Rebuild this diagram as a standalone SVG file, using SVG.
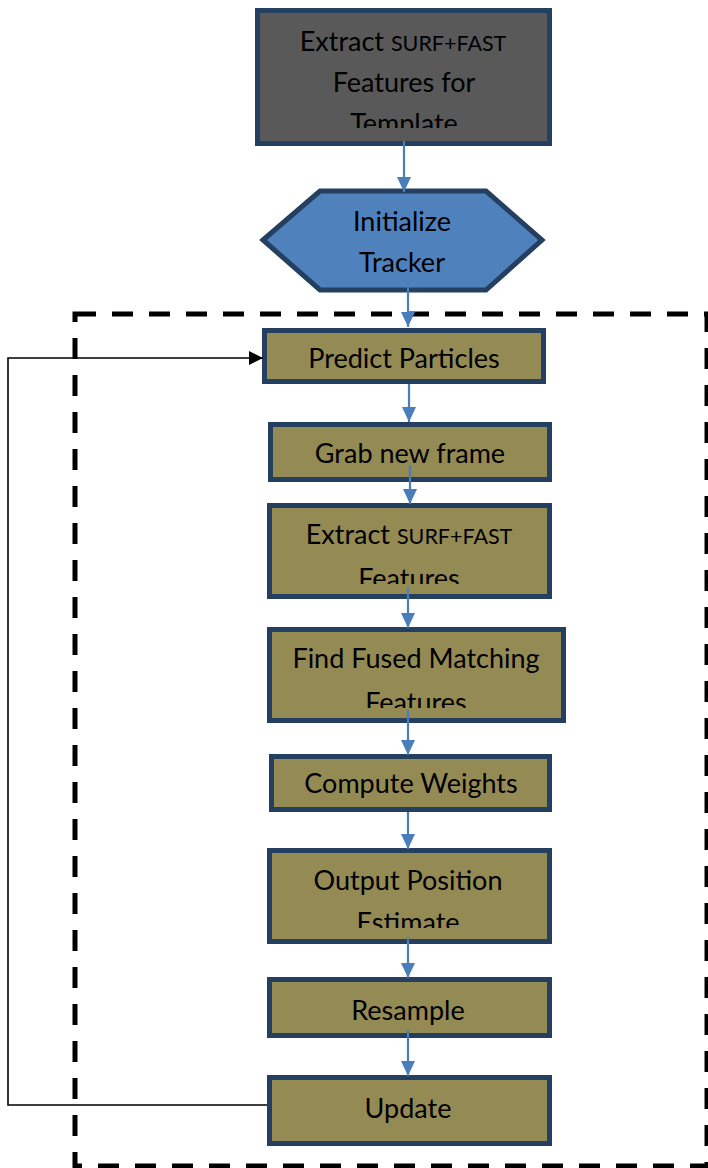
<svg xmlns="http://www.w3.org/2000/svg" width="708" height="1168" viewBox="0 0 708 1168">
<style>
.box{fill:#948A54;stroke:#243F60;stroke-width:5}
.t{font-family:Lato,"Liberation Sans",sans-serif;font-size:27px;fill:#000;text-anchor:middle}
.s{font-size:21.5px}
.bl{stroke:#4A7EBB;stroke-width:2.2;fill:none}
.fb{stroke:#000;stroke-width:1.6;fill:none}
</style>
<defs>
<marker id="ab" markerWidth="15" markerHeight="14" refX="15" refY="7" orient="auto" markerUnits="userSpaceOnUse" viewBox="0 0 15 14">
<path d="M0,0 L15,7 L0,14 Z" fill="#4A7EBB"/>
</marker>
<marker id="ak" markerWidth="14" markerHeight="14" refX="14" refY="7" orient="auto" markerUnits="userSpaceOnUse" viewBox="0 0 14 14">
<path d="M0,0 L14,7 L0,14 Z" fill="#000"/>
</marker>
<clipPath id="c1"><rect x="0" y="0" width="708" height="128"/></clipPath>
<clipPath id="c2"><rect x="0" y="0" width="708" height="584"/></clipPath>
<clipPath id="c3"><rect x="0" y="0" width="708" height="708"/></clipPath>
<clipPath id="c4"><rect x="0" y="0" width="708" height="928"/></clipPath>
</defs>
<rect id="loop" x="75" y="314" width="632" height="852" fill="none" stroke="#000" stroke-width="5" stroke-dasharray="21 16"/>
<g id="n_template">
<rect x="257.5" y="10.5" width="292" height="133" fill="#595959" stroke="#243F60" stroke-width="5"/>
<text class="t" x="403" y="51">Extract <tspan class="s">SURF+FAST</tspan></text>
<text class="t" x="404" y="92">Features for</text>
<text class="t" x="404" y="133" clip-path="url(#c1)">Template</text>
</g>
<g id="n_init">
<polygon points="263,240 320,191 486,191 542,240 486,290 320,290" fill="#4F81BD" stroke="#243F60" stroke-width="5"/>
<text class="t" x="402" y="231">Initialize</text>
<text class="t" x="402" y="272">Tracker</text>
</g>
<g id="n_predict">
<rect class="box" x="264.5" y="330.5" width="279" height="51"/>
<text class="t" x="404" y="368">Predict Particles</text>
</g>
<g id="n_grab">
<rect class="box" x="270.5" y="424.5" width="279" height="55"/>
<text class="t" x="410" y="463">Grab new frame</text>
</g>
<g id="n_extract">
<rect class="box" x="269.5" y="505.5" width="280" height="91"/>
<text class="t" x="409" y="544">Extract <tspan class="s">SURF+FAST</tspan></text>
<text class="t" x="409" y="588" clip-path="url(#c2)">Features</text>
</g>
<g id="n_match">
<rect class="box" x="269.5" y="629.5" width="294" height="91"/>
<text class="t" x="416" y="668">Find Fused Matching</text>
<text class="t" x="416" y="712" clip-path="url(#c3)">Features</text>
</g>
<g id="n_weights">
<rect class="box" x="271.5" y="756.5" width="278" height="53"/>
<text class="t" x="411" y="793">Compute Weights</text>
</g>
<g id="n_output">
<rect class="box" x="269.5" y="850.5" width="280" height="91"/>
<text class="t" x="408" y="890">Output Position</text>
<text class="t" x="408" y="932" clip-path="url(#c4)">Estimate</text>
</g>
<g id="n_resample">
<rect class="box" x="269.5" y="979.5" width="280" height="56"/>
<text class="t" x="408" y="1020">Resample</text>
</g>
<g id="n_update">
<rect class="box" x="269.5" y="1077.5" width="280" height="66"/>
<text class="t" x="408" y="1118">Update</text>
</g>
<g id="connectors">
<line class="bl" x1="404" y1="141" x2="404" y2="192" marker-end="url(#ab)"/>
<line class="bl" x1="408" y1="282" x2="408" y2="327" marker-end="url(#ab)"/>
<line class="bl" x1="409" y1="384" x2="409" y2="422" marker-end="url(#ab)"/>
<line class="bl" x1="410" y1="465" x2="410" y2="504" marker-end="url(#ab)"/>
<line class="bl" x1="408" y1="587" x2="408" y2="628" marker-end="url(#ab)"/>
<line class="bl" x1="408" y1="710" x2="408" y2="755" marker-end="url(#ab)"/>
<line class="bl" x1="408" y1="812" x2="408" y2="849" marker-end="url(#ab)"/>
<line class="bl" x1="408" y1="937" x2="408" y2="978" marker-end="url(#ab)"/>
<line class="bl" x1="408" y1="1030" x2="408" y2="1076" marker-end="url(#ab)"/>
<polyline class="fb" points="267,1105 8,1105 8,358 263,358" marker-end="url(#ak)"/>
</g>
</svg>
